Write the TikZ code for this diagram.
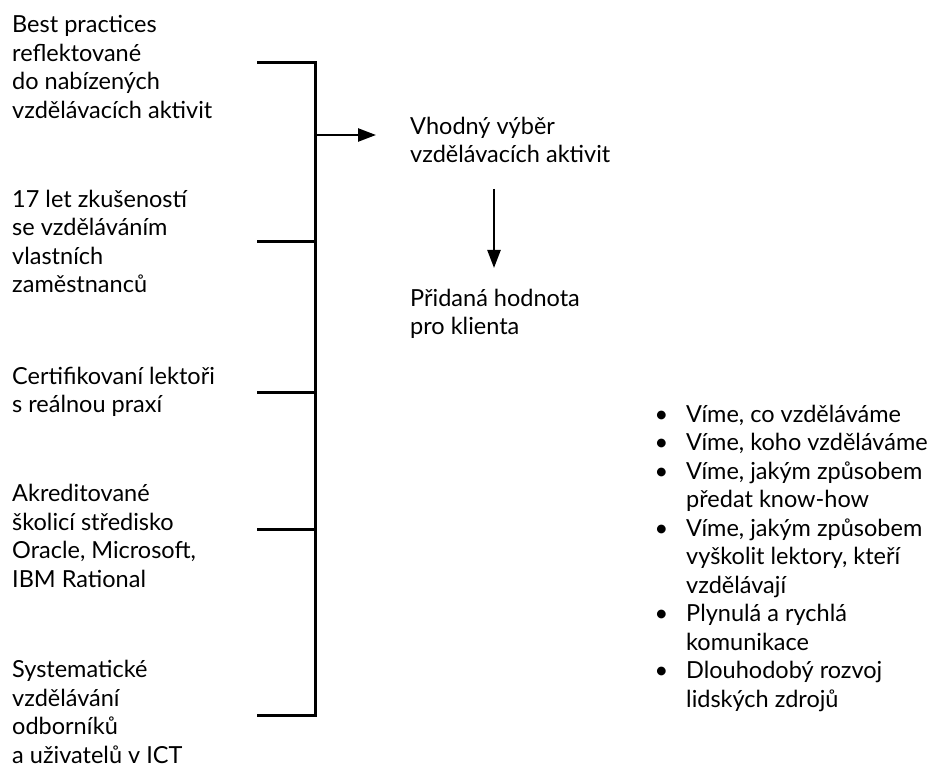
\documentclass[tikz,border=0pt]{standalone}
\usepackage{fontspec}
\setmainfont{Lato}
\usetikzlibrary{arrows.meta}
\begin{document}
\begin{tikzpicture}[x=1pt,y=-1pt,
  label/.style={anchor=base west,inner sep=0pt,align=left,
    font=\fontsize{23.5}{28.5}\selectfont},
  bracket/.style={line width=3pt,line cap=rect},
  flow/.style={line width=2.4pt,-{Triangle[length=18pt,width=13pt]}}]
\useasboundingbox (0,0) rectangle (938,767);
% sources on the left (anchored at the baseline of their last line)
\node[label] (s1) at (12,118.5) {Best practices\\reflektované\\do nabízených\\vzdělávacích aktivit};
\node[label] (s2) at (12,293) {17 let zkušeností\\se vzděláváním\\vlastních\\zaměstnanců};
\node[label] (s3) at (12,413) {Certifikovaní lektoři\\s reálnou praxí};
\node[label] (s4) at (12,587) {Akreditované\\školicí středisko\\Oracle, Microsoft,\\IBM Rational};
\node[label] (s5) at (12,763) {Systematické\\vzdělávání\\odborníků\\a uživatelů v ICT};
% bracket collecting the sources
\coordinate (t1) at (258,63);
\coordinate (t2) at (258,242);
\coordinate (t3) at (258,393);
\coordinate (t4) at (258,529);
\coordinate (t5) at (258,715);
\coordinate (top) at (315,63);
\coordinate (bot) at (315,715);
\coordinate (out) at (315,135);
\draw[bracket] (t1) -- (top) -- (bot) -- (t5);
\draw[bracket] (t2) -- (t2 -| top);
\draw[bracket] (t3) -- (t3 -| top);
\draw[bracket] (t4) -- (t4 -| top);
% results
\node[label] (r1) at (410,163) {Vhodný výběr\\vzdělávacích aktivit};
\node[label] (r2) at (410,335) {Přidaná hodnota\\pro klienta};
\coordinate (a1) at (376,135);
\draw[flow] (out) -- (a1);
\coordinate (d0) at (494,189);
\coordinate (d1) at (494,268);
\draw[flow] (d0) -- (d1);
% benefits
\newcommand{\bitem}{\llap{•\hspace{18pt}}}
\node[label] (b) at (686,707) {\bitem Víme, co vzděláváme\\
\bitem Víme, koho vzděláváme\\
\bitem Víme, jakým způsobem\\
předat know-how\\
\bitem Víme, jakým způsobem\\
vyškolit lektory, kteří\\
vzdělávají\\
\bitem Plynulá a rychlá\\
komunikace\\
\bitem Dlouhodobý rozvoj\\
lidských zdrojů};
\end{tikzpicture}
\end{document}
